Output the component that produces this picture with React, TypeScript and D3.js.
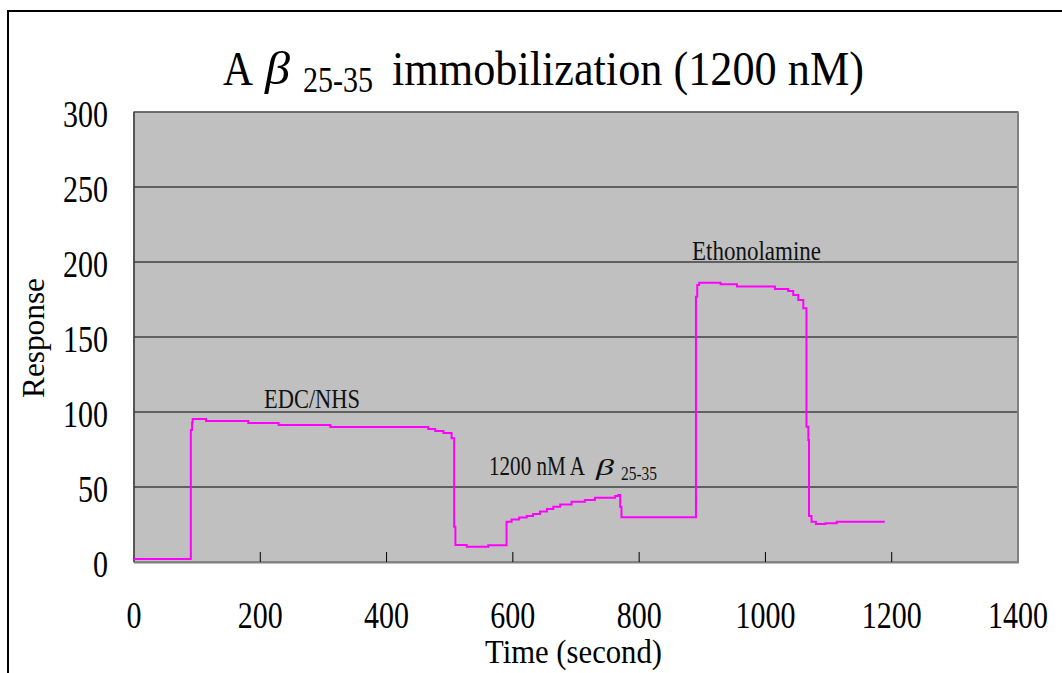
import React from "react";
import * as d3 from "d3";

// Sensorgram samples: time (s) and response, each value holds until the next sample
const times = [
  0, 90, 92, 93, 114, 181, 229, 311, 466, 477, 490, 503, 507, 509, 527, 561,
  590, 598, 610, 622, 632, 643, 654, 664, 675, 693, 714, 730, 762, 767, 770, 772,
  890, 892, 895, 929, 955, 1015, 1036, 1044, 1052, 1060, 1065, 1068, 1069, 1073,
  1080, 1095, 1113, 1189,
];
const responses = [
  2, 88, 93, 95.3, 94, 92.7, 91.3, 90, 88.7, 87.3, 86, 82.5, 23.5, 11.3, 10.2, 11.1,
  26.9, 28.4, 29.6, 30.7, 32, 33.6, 35.3, 36.9, 38.4, 40.2, 41.3, 42.9, 44, 44.7, 36.9, 29.8,
  176.9, 184.7, 186.2, 185.1, 183.6, 182, 180.7, 178, 174.7, 169.1, 90.2, 81.3, 30.7, 26.9,
  25.3, 25.8, 26.9, 26.9,
];

const xTicks = [0, 200, 400, 600, 800, 1000, 1200, 1400];
const yTicks = [0, 50, 100, 150, 200, 250, 300];

const W = 1062;
const H = 673;
const plot = { left: 134, right: 1018, top: 112, bottom: 562 };
const serif = "'Liberation Serif', 'Times New Roman', serif";

export default function App() {
  const x = d3.scaleLinear().domain([0, 1400]).range([plot.left, plot.right]);
  const y = d3.scaleLinear().domain([0, 300]).range([plot.bottom, plot.top]);

  const pts: [number, number][] = times.map((t, i) => [t, responses[i]]);
  const line = d3
    .line<[number, number]>()
    .x((d) => x(d[0]))
    .y((d) => y(d[1]))
    .curve(d3.curveStepAfter);

  const digitW = 15;

  return (
    <svg
      width={W}
      height={H}
      style={{ position: "absolute", left: 0, top: 0, background: "#fff" }}
      fontFamily={serif}
    >
      {/* chart frame */}
      <line x1={7} y1={11} x2={W} y2={11} stroke="#000" strokeWidth={2} />
      <line x1={8} y1={10} x2={8} y2={H} stroke="#000" strokeWidth={2} />

      {/* title */}
      <text fill="#000" fontSize={48}>
        <tspan x={223} y={85} textLength={30} lengthAdjust="spacingAndGlyphs">A</tspan>
        <tspan x={265} y={84} fontSize={46} fontStyle="italic" textLength={25} lengthAdjust="spacingAndGlyphs">β</tspan>
        <tspan x={303} y={92} fontSize={35} textLength={70} lengthAdjust="spacingAndGlyphs">25-35</tspan>
        <tspan x={392} y={85} textLength={472} lengthAdjust="spacingAndGlyphs">immobilization (1200 nM)</tspan>
      </text>

      {/* plot area */}
      <rect
        x={plot.left}
        y={plot.top}
        width={plot.right - plot.left}
        height={plot.bottom - plot.top}
        fill="#C0C0C0"
        stroke="#808080"
        strokeWidth={1.5}
      />
      {yTicks
        .filter((v) => v > 0 && v < 300)
        .map((v) => (
          <line key={"g" + v} x1={plot.left} x2={plot.right} y1={y(v)} y2={y(v)} stroke="#000" strokeWidth={1} />
        ))}
      <line x1={plot.left} x2={plot.right} y1={plot.top} y2={plot.top} stroke="#404040" strokeWidth={1} />
      <line x1={plot.left} x2={plot.left} y1={plot.top} y2={plot.bottom} stroke="#404040" strokeWidth={1.5} />
      <line x1={plot.right} x2={plot.right} y1={plot.top} y2={plot.bottom} stroke="#808080" strokeWidth={2} />
      <line x1={plot.left} x2={plot.right + 1} y1={plot.bottom + 0.5} y2={plot.bottom + 0.5} stroke="#808080" strokeWidth={2} />
      {xTicks
        .filter((v) => v > 0 && v < 1400)
        .map((v) => (
          <line key={"t" + v} x1={x(v)} x2={x(v)} y1={plot.bottom} y2={plot.bottom - 10} stroke="#000" strokeWidth={1} />
        ))}

      {/* response trace */}
      <path d={line(pts) ?? ""} fill="none" stroke="#FF00FF" strokeWidth={2} />

      {/* axis tick labels */}
      {xTicks.map((v) => {
        const s = String(v);
        return (
          <text
            key={"xl" + v}
            x={x(v)}
            y={628}
            fontSize={37}
            textAnchor="middle"
            textLength={s.length * digitW}
            lengthAdjust="spacingAndGlyphs"
          >
            {s}
          </text>
        );
      })}
      {yTicks.map((v) => {
        const s = String(v);
        return (
          <text
            key={"yl" + v}
            x={108 - s.length * digitW}
            y={y(v) + 15}
            fontSize={37}
            textLength={s.length * digitW}
            lengthAdjust="spacingAndGlyphs"
          >
            {s}
          </text>
        );
      })}

      {/* axis titles */}
      <text x={485} y={663} fontSize={34} textLength={177} lengthAdjust="spacingAndGlyphs">
        Time (second)
      </text>
      <text
        transform="translate(44,398) rotate(-90)"
        fontSize={32}
        textLength={120}
        lengthAdjust="spacingAndGlyphs"
      >
        Response
      </text>

      {/* step annotations */}
      <g fill="#111">
        <text x={264} y={408} fontSize={27} textLength={96} lengthAdjust="spacingAndGlyphs">EDC/NHS</text>
        <g transform="translate(489,475) scale(0.775,1)">
          <text x={0} y={0} fontSize={27} textLength={124} lengthAdjust="spacingAndGlyphs">1200 nM A</text>
        </g>
        <text fontSize={23}>
          <tspan x={596} y={475} fontStyle="italic" textLength={18} lengthAdjust="spacingAndGlyphs">β</tspan>
          <tspan x={621} y={480} fontSize={18} textLength={36} lengthAdjust="spacingAndGlyphs">25-35</tspan>
        </text>
        <text x={692} y={260} fontSize={27} textLength={129} lengthAdjust="spacingAndGlyphs">Ethonolamine</text>
      </g>
    </svg>
  );
}
